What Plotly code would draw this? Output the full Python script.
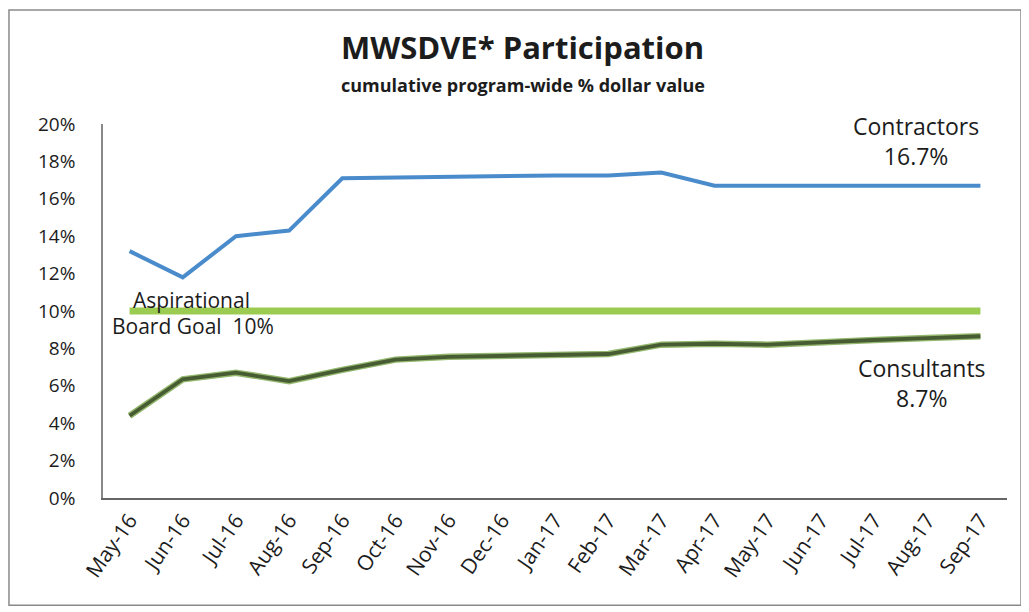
import plotly.graph_objects as go

months = ["May-16", "Jun-16", "Jul-16", "Aug-16", "Sep-16", "Oct-16", "Nov-16", "Dec-16",
          "Jan-17", "Feb-17", "Mar-17", "Apr-17", "May-17", "Jun-17", "Jul-17", "Aug-17", "Sep-17"]
contractors = [13.2, 11.8, 14.0, 14.3, 17.1, 17.15, 17.15, 17.25, 17.25, 17.25, 17.4,
               16.7, 16.7, 16.75, 16.7, 16.7, 16.7]
consultants = [4.4, 6.35, 6.7, 6.25, 6.85, 7.4, 7.55, 7.6, 7.6, 7.7, 8.2,
               8.25, 8.2, 8.35, 8.45, 8.55, 8.65]
goal = [10.0] * len(months)
y_ticks = [0, 2, 4, 6, 8, 10, 12, 14, 16, 18, 20]
y_tick_labels = [f"{v}%" for v in y_ticks]

FONT = "Open Sans"
TXT = "#1c1c1c"

fig = go.Figure()
fig.add_trace(go.Scatter(x=months, y=goal, mode="lines",
                         line=dict(color="#9BCB50", width=7), hoverinfo="skip"))
fig.add_trace(go.Scatter(x=months, y=contractors, mode="lines",
                         line=dict(color="#4A8CCB", width=4)))
fig.add_trace(go.Scatter(x=months, y=consultants, mode="lines",
                         line=dict(color="#93B86E", width=6.5), hoverinfo="skip"))
fig.add_trace(go.Scatter(x=months, y=consultants, mode="lines",
                         line=dict(color="#485C33", width=3.8)))

# title & subtitle
fig.add_annotation(xref="paper", yref="paper", x=0.4646, y=1.206, showarrow=False,
                   text="<b>MWSDVE* Participation</b>", xanchor="center", yanchor="middle",
                   font=dict(family=FONT, size=31, color=TXT))
fig.add_annotation(xref="paper", yref="paper", x=0.4646, y=1.104, showarrow=False,
                   text="<b>cumulative program-wide % dollar value</b>", xanchor="center",
                   yanchor="middle", font=dict(family=FONT, size=18, color=TXT))

# series labels
fig.add_annotation(xref="paper", yref="y", x=0.899, y=19.1, showarrow=False,
                   text="Contractors<br>16.7%", xanchor="center", yanchor="middle",
                   align="center", font=dict(family=FONT, size=23, color=TXT))
fig.add_annotation(xref="paper", yref="y", x=0.906, y=6.15, showarrow=False,
                   text="Consultants<br>8.7%", xanchor="center", yanchor="middle",
                   align="center", font=dict(family=FONT, size=23, color=TXT))
fig.add_annotation(xref="paper", yref="y", x=0.031, y=10.6, showarrow=False,
                   text="Aspirational", xanchor="left", yanchor="middle",
                   font=dict(family=FONT, size=21, color=TXT))
fig.add_annotation(xref="paper", yref="y", x=0.0077, y=9.2, showarrow=False,
                   text="Board Goal&nbsp;&nbsp;10%", xanchor="left", yanchor="middle",
                   font=dict(family=FONT, size=21, color=TXT))

# chart border
fig.add_shape(type="rect", xref="paper", yref="paper",
              x0=-0.104, x1=1.0155, y0=-0.287, y1=1.305,
              line=dict(color="#8a8a8a", width=1.5))

fig.update_layout(
    width=1021, height=604,
    margin=dict(l=95, r=22, t=116, b=114),
    paper_bgcolor="white", plot_bgcolor="white",
    showlegend=False,
)
fig.update_xaxes(type="category", range=[-0.5, len(months) - 0.5],
                 showgrid=False, showline=True, linecolor="#666666",
                 linewidth=1.5, ticks="", tickangle=-55, automargin=False,
                 tickfont=dict(family=FONT, size=21, color=TXT))
fig.update_yaxes(range=[0, 20], tickvals=y_ticks, ticktext=y_tick_labels,
                 showgrid=False, zeroline=False, showline=True, linecolor="#888888",
                 linewidth=1.5, ticks="", ticklabelstandoff=22, automargin=False,
                 tickfont=dict(family=FONT, size=19, color=TXT))

fig.write_html("out.html")
